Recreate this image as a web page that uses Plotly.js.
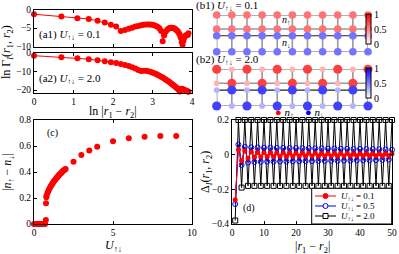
<!DOCTYPE html>
<html><head><meta charset="utf-8">
<script src="https://cdn.plot.ly/plotly-3.0.1.min.js"></script>
<style>html,body{margin:0;padding:0;background:#fff}#chart{width:399px;height:254px}</style>
</head><body><div id="chart"></div>
<script>
const W = 399, H = 254;
// ---------- panel (a): ln Gamma vs ln|r1-r2| ----------
const sepA = [1,2,3,4,5,6,7,8,9,10,11,12,13,14,15,16,17,18,19,20,21,22,23,24,25,26,27,28,29,30,31,32,33,34,35,36,37,38,39,40,41,42,43,44,45,46,47,48,49,50];
const lnGammaU01 = [-1.2,-1.8,-2.3,-2.5,-3.0,-3.5,-4.1,-4.6,-5.8,-5.5,-5.2,-4.9,-4.6,-4.4,-4.2,-4.1,-4.0,-4.0,-4.0,-4.1,-4.2,-4.4,-4.7,-5.1,-5.8,-8.6,-7.0,-6.0,-5.5,-5.2,-5.0,-4.9,-4.9,-5.0,-5.1,-5.3,-5.6,-5.9,-6.3,-6.8,-7.6,-8.8,-9.6,-8.5,-7.6,-7.2,-7.0,-6.9,-6.9,-6.4];
const lnGammaU20 = [-1.5,-2.4,-2.9,-3.4,-4.0,-4.5,-5.0,-5.5,-6.0,-6.5,-7.1,-7.7,-8.4,-9.2,-9.8,-9.6,-9.6,-9.9,-10.2,-10.6,-11.0,-11.4,-11.9,-12.3,-12.8,-13.3,-13.8,-14.3,-14.8,-15.3,-15.8,-16.3,-16.8,-17.3,-17.8,-18.3,-18.8,-19.3,-19.8,-20.8,-19.5,-19.3,-19.5,-19.7,-19.9,-20.1,-20.3,-20.5,-20.7,-20.9];
// ---------- panel (c): |n_up - n_down| vs U ----------
const Uc = [0,0.05,0.1,0.15,0.2,0.25,0.3,0.35,0.4,0.45,0.5,0.55,0.6,0.65,0.7,0.75,0.76,0.78,0.8,0.85,0.9,0.95,1.0,1.05,1.1,1.15,1.2,1.25,1.3,1.35,1.4,1.45,1.5,1.55,1.6,1.65,1.7,1.75,1.8,1.85,1.9,1.95,2.0,2.5,3,3.5,4,5,6,7,8,9];
const magC = [0,0,0,0,0,0,0,0,0,0,0,0,0,0,0,0.03,0.16,0.205,0.22,0.238,0.252,0.265,0.277,0.288,0.298,0.308,0.317,0.326,0.334,0.342,0.35,0.357,0.364,0.371,0.378,0.385,0.391,0.397,0.403,0.409,0.414,0.419,0.424,0.478,0.53,0.565,0.595,0.637,0.66,0.672,0.677,0.677];
// ---------- panel (d): Delta_I vs |r1-r2| ----------
const sepD = sepA;
const deltaU01 = [-0.26,0.03,-0.035,0.022,-0.02,0.016,-0.014,0.013,-0.012,0.011,-0.011,0.010,-0.010,0.010,-0.009,0.009,-0.009,0.009,-0.009,0.008,-0.008,0.008,-0.008,0.008,-0.008,0.008,-0.007,0.007,-0.007,0.007,-0.007,0.007,-0.007,0.007,-0.007,0.007,-0.006,0.006,-0.006,0.006,-0.006,0.006,-0.006,0.006,-0.006,0.006,-0.006,0.006,-0.006,0.006];
const deltaU05 = [-0.285,0.058,-0.06,0.045,-0.045,0.042,-0.042,0.041,-0.041,0.040,-0.040,0.040,-0.040,0.039,-0.039,0.039,-0.039,0.038,-0.038,0.038,-0.038,0.037,-0.037,0.037,-0.037,0.036,-0.036,0.036,-0.036,0.035,-0.035,0.035,-0.035,0.034,-0.034,0.034,-0.034,0.033,-0.033,0.033,-0.033,0.032,-0.032,0.032,-0.031,0.031,-0.030,0.030,-0.028,0.028];
const deltaU20 = [-0.38,0.2,-0.19,0.2,-0.18,0.2,-0.18,0.2,-0.18,0.2,-0.18,0.2,-0.18,0.2,-0.18,0.2,-0.18,0.2,-0.18,0.2,-0.18,0.2,-0.18,0.2,-0.18,0.2,-0.18,0.2,-0.18,0.2,-0.18,0.2,-0.18,0.2,-0.18,0.2,-0.18,0.2,-0.18,0.2,-0.18,0.2,-0.18,0.2,-0.18,0.2,-0.18,0.2,-0.18,0.2];
const legendD = ['<i>U</i><sub>↑↓</sub> = 0.1','<i>U</i><sub>↑↓</sub> = 0.5','<i>U</i><sub>↑↓</sub> = 2.0'];
// ---------- panel (b): lattice densities ----------
const latCols = [0,1,2,3,4,5,6,7,8,9,10];
const rowPos = [0, 1, 1.48, 2.62];
const nUpB1 = [[0.55,0.55,0.55,0.55,0.55,0.55,0.55,0.55,0.55,0.55,0.55],[0.55,0.55,0.55,0.55,0.55,0.55,0.55,0.55,0.55,0.55,0.55]];
const nDnB1 = [[0.55,0.55,0.55,0.55,0.55,0.55,0.55,0.55,0.55,0.55,0.55],[0.55,0.55,0.55,0.55,0.55,0.55,0.55,0.55,0.55,0.55,0.55]];
const nUpB2 = [[0.75,0.3,0.75,0.3,0.75,0.3,0.75,0.3,0.75,0.3,0.75],[0.3,0.75,0.3,0.75,0.3,0.75,0.3,0.75,0.3,0.75,0.3]];
const nDnB2 = [[0.3,0.75,0.3,0.75,0.3,0.75,0.3,0.75,0.3,0.75,0.3],[0.75,0.3,0.75,0.3,0.75,0.3,0.75,0.3,0.75,0.3,0.75]];
const cbTicks = [0, 0.5, 1];
const cbTickText = ['0','0.5','1'];

const FONT = 'Liberation Serif, Times New Roman, serif';
const px = v => v / W, py = v => 1 - v / H;
const RED = '#ff0000', BLUE = '#0000ff';

function ax(domain, range, extra) {
  return Object.assign({domain: domain, range: range, showline: true, linecolor: '#000', linewidth: 1,
    mirror: 'ticks', ticks: 'inside', ticklen: 3, tickwidth: 1, tickcolor: '#000', zeroline: false,
    showgrid: false, tickfont: {size: 9.5, family: FONT, color: '#000'}}, extra || {});
}
function hid(domain, range, anchor) {
  return {domain: domain, range: range, visible: false, fixedrange: true, anchor: anchor};
}

const traces = [];
const lnSep = sepA.map(v => Math.log(v));
traces.push({x: lnSep, y: lnGammaU01, xaxis: 'x', yaxis: 'y', mode: 'lines+markers', showlegend: false,
  line: {color: RED, width: 1}, marker: {color: RED, size: 6}, cliponaxis: false});
traces.push({x: lnSep, y: lnGammaU20, xaxis: 'x2', yaxis: 'y2', mode: 'lines+markers', showlegend: false,
  line: {color: RED, width: 1}, marker: {color: RED, size: 6}, cliponaxis: false});
traces.push({x: Uc, y: magC, xaxis: 'x3', yaxis: 'y3', mode: 'markers', showlegend: false,
  marker: {color: RED, size: 6}, cliponaxis: false});
const dStyles = [
  {line: {color: RED, width: 1}, marker: {color: RED, size: 5}},
  {line: {color: BLUE, width: 1}, marker: {symbol: 'circle-open', color: BLUE, size: 5, line: {width: 1}}},
  {line: {color: '#000', width: 1}, marker: {symbol: 'square-open', color: '#000', size: 5, line: {width: 1}}}
];
[deltaU20, deltaU05, deltaU01].forEach((d, k) => {
  const s = dStyles[2 - k];
  traces.push({x: sepD, y: d, xaxis: 'x4', yaxis: 'y4', mode: 'lines+markers', showlegend: false,
    line: s.line, marker: s.marker, cliponaxis: false});
});

function lattice(xa, ya, nUp, nDn, showBar, barTop) {
  const hx = [], hy = [];
  [0, 1, 3].forEach(k => { latCols.forEach(c => { hx.push(c); hy.push(rowPos[k]); }); hx.push(null); hy.push(null); });
  const vx = [], vy = [];
  latCols.forEach(c => {
    vx.push(c, c, null); vy.push(rowPos[0], rowPos[1], null);
    vx.push(c, c, null); vy.push(rowPos[2], rowPos[3], null);
  });
  traces.push({x: hx, y: hy, xaxis: xa, yaxis: ya, mode: 'lines', line: {color: '#999999', width: 1.6}, showlegend: false, hoverinfo: 'skip'});
  traces.push({x: vx, y: vy, xaxis: xa, yaxis: ya, mode: 'lines', line: {color: '#999999', width: 1.6}, showlegend: false, hoverinfo: 'skip'});
  traces.push({x: latCols, y: latCols.map(() => rowPos[2]), xaxis: xa, yaxis: ya, mode: 'lines', line: {color: '#222222', width: 1.2}, showlegend: false, hoverinfo: 'skip'});
  function sites(n, rows, scale, bar) {
    const x = [], y = [], c = [];
    n.forEach((row, i) => row.forEach((v, j) => { x.push(latCols[j]); y.push(rows[i]); c.push(v); }));
    const m = {color: c, cmin: 0, cmax: 1, colorscale: scale, size: c.map(v => 3.5 + 7.5 * v), line: {width: 0}, opacity: 1};
    if (bar) m.colorbar = {x: px(366), xanchor: 'left', y: py(barTop), yanchor: 'top', len: 30, lenmode: 'pixels',
      thickness: 5, thicknessmode: 'pixels', xpad: 0, ypad: 0, outlinewidth: 1, outlinecolor: '#000',
      tickvals: cbTicks, ticktext: cbTickText, ticks: '', tickfont: {size: 10, family: FONT, color: '#000'}};
    m.showscale = !!bar;
    traces.push({x: x, y: y, xaxis: xa, yaxis: ya, mode: 'markers', marker: m, showlegend: false, cliponaxis: false, opacity: 1});
  }
  sites(nUp, [rowPos[0], rowPos[1]], [[0, '#ffffff'], [1, RED]], showBar === 'up');
  sites(nDn, [rowPos[2], rowPos[3]], [[0, '#ffffff'], [1, BLUE]], showBar === 'dn');
}
lattice('x5', 'y5', nUpB1, nDnB1, 'up', 14);
lattice('x6', 'y6', nUpB2, nDnB2, 'dn', 68.3);

const xa = [px(34), px(192)], xd = [px(232), px(392)];
const layout = {
  width: W, height: H, margin: {l: 0, r: 0, t: 0, b: 0}, paper_bgcolor: '#fff', plot_bgcolor: 'rgba(0,0,0,0)',
  font: {family: FONT, size: 10, color: '#000'}, showlegend: false,
  xaxis: ax(xa, [0, 4], {anchor: 'y', tickvals: [0, 1, 2, 3, 4], showticklabels: false}),
  yaxis: ax([py(47), py(9.5)], [-10.2, 0.1], {anchor: 'x', tickvals: [-10, -5, 0]}),
  xaxis2: ax(xa, [0, 4], {anchor: 'y2', tickvals: [0, 1, 2, 3, 4]}),
  yaxis2: ax([py(92.5), py(52.5)], [-21.3, 0.2], {anchor: 'x2', tickvals: [-20, -10, 0]}),
  xaxis3: ax(xa, [0, 10], {anchor: 'y3', tickvals: [0, 5, 10]}),
  yaxis3: ax([py(224), py(120)], [0, 0.8], {anchor: 'x3', tickvals: [0, 0.2, 0.4, 0.6, 0.8], ticktext: ['0', '0.2', '0.4', '0.6', '0.8']}),
  xaxis4: ax(xd, [0, 50], {anchor: 'y4', tickvals: [0, 10, 20, 30, 40, 50]}),
  yaxis4: ax([py(224), py(120)], [-0.4, 0.2], {anchor: 'x4', tickvals: [-0.4, -0.2, 0, 0.2], ticktext: ['−0.4', '−0.2', '0', '0.2']}),
  xaxis5: hid([px(216.7), px(368)], [0, 10], 'y5'), yaxis5: hid([py(51.7), py(15)], [rowPos[3], 0], 'x5'),
  xaxis6: hid([px(216.7), px(368)], [0, 10], 'y6'), yaxis6: hid([py(106), py(69.3)], [rowPos[3], 0], 'x6'),
  shapes: [], annotations: []
};
function ann(x, y, text, o) {
  layout.annotations.push(Object.assign({xref: 'paper', yref: 'paper', x: px(x), y: py(y), text: text, showarrow: false,
    xanchor: 'left', yanchor: 'middle', font: {size: 11, family: FONT, color: '#000'}}, o || {}));
}
// custom legend for (d)
layout.shapes.push({type: 'rect', xref: 'paper', yref: 'paper', x0: px(311.7), x1: px(391.7), y0: py(224), y1: py(188.3),
  fillcolor: '#fff', line: {color: '#000', width: 1}, layer: 'above'});
const legY = [196, 206, 216];
legY.forEach((yy, i) => {
  const s = dStyles[i];
  layout.shapes.push({type: 'line', xref: 'paper', yref: 'paper', x0: px(315), x1: px(336), y0: py(yy), y1: py(yy),
    line: {color: s.line.color, width: 1}, layer: 'above'});
  const sym = i === 2 ? 'rect' : 'circle';
  layout.shapes.push({type: sym, xref: 'paper', yref: 'paper', xsizemode: 'pixel', ysizemode: 'pixel',
    xanchor: px(325.5), yanchor: py(yy), x0: -2.5, x1: 2.5, y0: -2.5, y1: 2.5,
    fillcolor: i === 0 ? RED : '#fff', line: {color: s.line.color, width: 1}, layer: 'above'});
  ann(339, yy, legendD[i], {font: {size: 9, family: FONT}});
});
const Uud = '<i>U</i><sub>↑↓</sub>';
ann(37, 35, '(a1) ' + Uud + ' = 0.1');
ann(37, 79, '(a2) ' + Uud + ' = 2.0');
ann(113, 111.5, 'ln |<i>r</i><sub>1</sub> − <i>r</i><sub>2</sub>|', {xanchor: 'center', font: {size: 12, family: FONT}});
ann(7, 52, 'ln Γ<sub><i>I</i></sub>(<i>r</i><sub>1</sub>, <i>r</i><sub>2</sub>)', {xanchor: 'center', textangle: -90, font: {size: 12, family: FONT}});
ann(45, 133, '(c)', {font: {size: 10, family: FONT}});
ann(113, 246, Uud, {xanchor: 'center', font: {size: 12, family: FONT}});
ann(8, 172, '|<i>n</i><sub>↑</sub> − <i>n</i><sub>↓</sub>|', {xanchor: 'center', textangle: -90, font: {size: 12, family: FONT}});
ann(241, 208, '(d)', {font: {size: 10, family: FONT}});
ann(312, 247, '|<i>r</i><sub>1</sub> − <i>r</i><sub>2</sub>|', {xanchor: 'center', font: {size: 12, family: FONT}});
ann(206, 172, 'Δ<sub><i>I</i></sub>(<i>r</i><sub>1</sub>, <i>r</i><sub>2</sub>)', {xanchor: 'center', textangle: -90, font: {size: 12, family: FONT}});
ann(194, 6, '(b1) ' + Uud + ' = 0.1');
ann(194, 60, '(b2) ' + Uud + ' = 2.0');
ann(280, 21, '<i>n</i><sub>↑</sub>', {font: {size: 10, family: FONT}});
ann(280, 43, '<i>n</i><sub>↓</sub>', {font: {size: 10, family: FONT}});
ann(273, 113, '<span style="color:#ff0000">●</span> <i>n</i><sub>↑</sub>', {font: {size: 11, family: FONT}});
ann(303, 113, '<span style="color:#0000ff">●</span> <i>n</i><sub>↓</sub>', {font: {size: 11, family: FONT}});

Plotly.newPlot('chart', traces, layout, {staticPlot: true, displayModeBar: false});
</script></body></html>
